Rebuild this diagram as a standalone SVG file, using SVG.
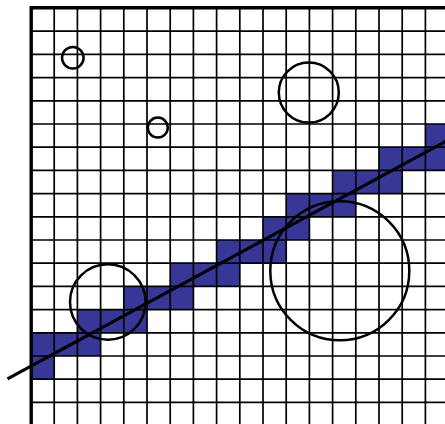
<svg xmlns="http://www.w3.org/2000/svg" width="445" height="424" viewBox="0 0 445 424">
<style>
.cell{fill:#373797}
.grid{stroke:#000;stroke-width:1.7;fill:none}
.border{stroke:#000;stroke-width:3.4;fill:none}
.circ{stroke:#000;stroke-width:2.5;fill:none}
.ray{stroke:#000;stroke-width:3.2;fill:none}
</style>
<rect width="445" height="424" fill="#fff"/>
<g id="cells">
<rect class="cell" x="31" y="332.8" width="23.2" height="46.4"/>
<rect class="cell" x="54.2" y="332.8" width="23.2" height="23.2"/>
<rect class="cell" x="77.4" y="309.6" width="23.2" height="46.4"/>
<rect class="cell" x="100.6" y="309.6" width="23.2" height="23.2"/>
<rect class="cell" x="123.8" y="286.4" width="23.2" height="46.4"/>
<rect class="cell" x="147" y="286.4" width="23.2" height="23.2"/>
<rect class="cell" x="170.2" y="263.2" width="23.2" height="46.4"/>
<rect class="cell" x="193.4" y="263.2" width="23.2" height="23.2"/>
<rect class="cell" x="216.6" y="240" width="23.2" height="46.4"/>
<rect class="cell" x="239.8" y="240" width="23.2" height="23.2"/>
<rect class="cell" x="263" y="216.8" width="23.2" height="46.4"/>
<rect class="cell" x="286.2" y="193.6" width="23.2" height="46.4"/>
<rect class="cell" x="309.4" y="193.6" width="23.2" height="23.2"/>
<rect class="cell" x="332.6" y="170.4" width="23.2" height="46.4"/>
<rect class="cell" x="355.8" y="170.4" width="23.2" height="23.2"/>
<rect class="cell" x="379" y="147.2" width="23.2" height="46.4"/>
<rect class="cell" x="402.2" y="147.2" width="23.2" height="23.2"/>
<rect class="cell" x="425.4" y="124" width="23.2" height="46.4"/>
</g>
<g id="grid">
<path class="grid" d="M54.2 8V424M77.4 8V424M100.6 8V424M123.8 8V424M147 8V424M170.2 8V424M193.4 8V424M216.6 8V424M239.8 8V424M263 8V424M286.2 8V424M309.4 8V424M332.6 8V424M355.8 8V424M379 8V424M402.2 8V424M425.4 8V424"/>
<path class="grid" d="M31 31.2H445M31 54.4H445M31 77.6H445M31 100.8H445M31 124H445M31 147.2H445M31 170.4H445M31 193.6H445M31 216.8H445M31 240H445M31 263.2H445M31 286.4H445M31 309.6H445M31 332.8H445M31 356H445M31 379.2H445M31 402.4H445"/>
<path class="border" d="M31.2 424V7.7H445"/>
</g>
<g id="circles">
<circle class="circ" cx="72.8" cy="57.8" r="10.8"/>
<circle class="circ" cx="157.8" cy="127.6" r="10"/>
<circle class="circ" cx="308.8" cy="92.6" r="30"/>
<circle class="circ" cx="107.8" cy="302" r="37.8"/>
<circle class="circ" cx="339.8" cy="270.8" r="69.5"/>
</g>
<g id="line">
<line class="ray" x1="7.5" y1="378.8" x2="460" y2="133.6"/>
</g>
</svg>
